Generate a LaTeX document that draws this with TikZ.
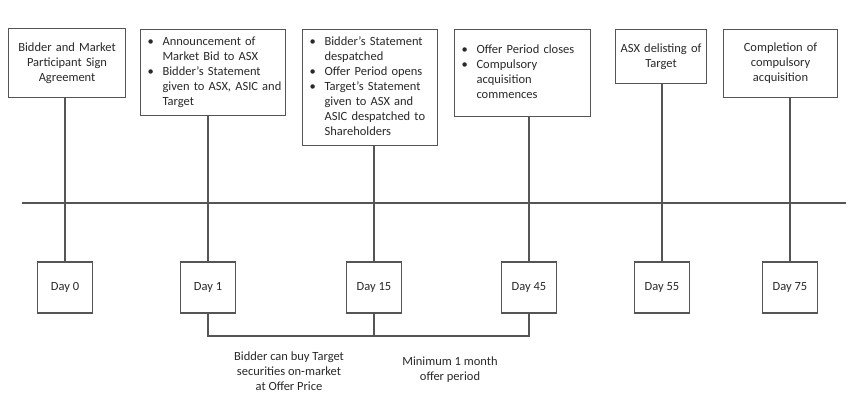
\documentclass[tikz,border=0pt]{standalone}
\usepackage{fontspec}
\setmainfont{Carlito}
\hyphenpenalty=10000
\exhyphenpenalty=10000
\definecolor{ln}{RGB}{85,85,85}
\definecolor{tx}{RGB}{40,40,40}
\newcommand{\bl}{\textbullet}
\tikzset{
  txt/.style={font=\fontsize{12.5}{15}\selectfont, text=tx},
  box/.style={txt, draw=ln, line width=1.1pt, inner xsep=7pt, inner ysep=0pt, anchor=north west},
  cbox/.style={box, align=center},
  lbox/.style={box, align=left},
  daybox/.style={txt, draw=ln, line width=1.1pt, minimum width=55pt, minimum height=51pt, inner sep=0pt},
  conn/.style={draw=ln, line width=1.1pt},
  axisline/.style={draw=ln, line width=1.8pt},
  note/.style={txt, align=center}
}
\begin{document}
\begin{tikzpicture}[x=1pt,y=-1pt]
\useasboundingbox (0,0) rectangle (850,414);

% top boxes
\node[cbox, text width=103pt, minimum height=69pt] (b1) at (8,28)
  {Bidder and Market\\Participant Sign\\Agreement};
\node[lbox, text width=131pt, minimum height=86pt] (b2) at (140,29)
  {\noindent\begin{tabular}{@{}p{15pt}@{}l@{}}
   \bl & Announcement of\\
       & Market Bid to ASX\\
   \bl & Bidder’s Statement\\
       & given to ASX, ASIC and\\
       & Target
   \end{tabular}};
\node[lbox, text width=121pt, minimum height=116pt] (b3) at (302,29)
  {\noindent\begin{tabular}{@{}p{15pt}@{}l@{}}
   \bl & Bidder’s Statement\\
       & despatched\\
   \bl & Offer Period opens\\
   \bl & Target’s Statement\\
       & given to ASX and\\
       & ASIC despatched to\\
       & Shareholders
   \end{tabular}};
\node[lbox, text width=122pt, minimum height=87pt] (b4) at (454,29)
  {\noindent\begin{tabular}{@{}p{15pt}@{}l@{}}
   \bl & Offer Period closes\\
   \bl & Compulsory\\
       & acquisition\\
       & commences
   \end{tabular}};
\node[cbox, inner xsep=2pt, text width=87pt, minimum height=54pt] (b5) at (615,29)
  {ASX delisting of\\Target};
\node[cbox, text width=100pt, minimum height=68pt] (b6) at (723,29)
  {Completion of\\compulsory\\acquisition};

% timeline
\coordinate (tl) at (22,203);
\coordinate (tr) at (846,203);
\draw[axisline] (tl) -- (tr);

% day boxes
\node[daybox] (d0)  at (65,287.5)  {Day 0};
\node[daybox] (d1)  at (208,287.5) {Day 1};
\node[daybox] (d15) at (374,287.5) {Day 15};
\node[daybox] (d45) at (529,287.5) {Day 45};
\node[daybox] (d55) at (662,287.5) {Day 55};
\node[daybox] (d75) at (790,287.5) {Day 75};

% verticals
\draw[conn] (d0.north)  -- (d0.north  |- b1.south);
\draw[conn] (d1.north)  -- (d1.north  |- b2.south);
\draw[conn] (d15.north) -- (d15.north |- b3.south);
\draw[conn] (d45.north) -- (d45.north |- b4.south);
\draw[conn] (d55.north) -- (d55.north |- b5.south);
\draw[conn] (d75.north) -- (d75.north |- b6.south);

% bracket
\coordinate (br) at (0,336);
\draw[conn] (d1.south) -- (d1.south |- br) -- (d45.south |- br) -- (d45.south);
\draw[conn] (d15.south) -- (d15.south |- br);

% notes
\node[note] (n1) at (289,371) {Bidder can buy Target\\securities on-market\\at Offer Price};
\node[note] (n2) at (450,370) {Minimum 1 month\\offer period};
\end{tikzpicture}
\end{document}
